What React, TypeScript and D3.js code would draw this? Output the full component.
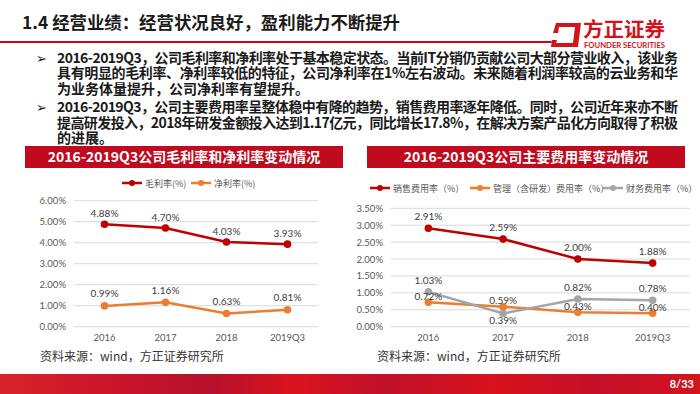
import React from "react";
import * as d3 from "d3";

const years = ["2016", "2017", "2018", "2019Q3"];
const grossMargin = [4.88, 4.7, 4.03, 3.93];
const netMargin = [0.99, 1.16, 0.63, 0.81];
const salesRate = [2.91, 2.59, 2.0, 1.88];
const adminRate = [0.72, 0.59, 0.43, 0.4];
const financeRate = [1.03, 0.39, 0.82, 0.78];
const leftTicks = [0, 1, 2, 3, 4, 5, 6];
const rightTicks = [0, 0.5, 1, 1.5, 2, 2.5, 3, 3.5];
const financeLabelSide = ["above", "below", "above", "above"];

const slideTitle = "1.4  经营业绩：经营状况良好，盈利能力不断提升";
const bodyLines = [
  "2016-2019Q3，公司毛利率和净利率处于基本稳定状态。当前IT分销仍贡献公司大部分营业收入，该业务",
  "具有明显的毛利率、净利率较低的特征，公司净利率在1%左右波动。未来随着利润率较高的云业务和华",
  "为业务体量提升，公司净利率有望提升。",
  "2016-2019Q3，公司主要费用率呈整体稳中有降的趋势，销售费用率逐年降低。同时，公司近年来亦不断",
  "提高研发投入，2018年研发金额投入达到1.17亿元，同比增长17.8%，在解决方案产品化方向取得了积极",
  "的进展。",
];
const source = "资料来源：wind，方正证券研究所";

const RED = "#C00000";
const ORANGE = "#ED7D31";
const GRAY = "#A5A5A5";
const CJK = "'Noto Sans CJK SC', 'Noto Sans', sans-serif";
const NUM = "Lato, 'Liberation Sans', sans-serif";
const fmt = d3.format(".2f");

type Series = {
  name: string;
  values: number[];
  color: string;
  labelDy: (i: number) => number;
};

function LineChart(props: {
  left: number;
  right: number;
  top: number;
  bottom: number;
  max: number;
  ticks: number[];
  series: Series[];
  legendY: number;
  legendX: number[];
  barX: number;
  barW: number;
  title: string;
}) {
  const { left, right, top, bottom, max, ticks, series, legendY, legendX, barX, barW, title } = props;
  const x = d3.scaleBand<string>().domain(years).range([left, right]);
  const cx = (i: number) => (x(years[i]) as number) + x.bandwidth() / 2;
  const y = d3.scaleLinear().domain([0, max]).range([bottom, top]);
  const line = d3
    .line<number>()
    .x((d, i) => cx(i))
    .y((d) => y(d));

  return (
    <g>
      <rect x={barX} y={146} width={barW} height={22} fill="#C00A1E" />
      <text
        x={barX + barW / 2}
        y={162}
        textAnchor="middle"
        fill="#fff"
        fontSize={14}
        fontWeight={700}
        fontFamily={CJK}
      >
        {title}
      </text>

      {series.map((s, k) => (
        <g key={s.name}>
          <line x1={legendX[k]} x2={legendX[k] + 20} y1={legendY} y2={legendY} stroke={s.color} strokeWidth={2.5} />
          <circle cx={legendX[k] + 10} cy={legendY} r={3} fill={s.color} />
          <text x={legendX[k] + 23} y={legendY + 3.5} fontSize={9} fill="#595959" fontFamily={CJK}>
            {s.name}
          </text>
        </g>
      ))}

      {ticks.map((t) => (
        <g key={t}>
          <line x1={left} x2={right} y1={y(t)} y2={y(t)} stroke="#D9D9D9" strokeWidth={1} />
          <text x={left - 8} y={y(t) + 3.5} textAnchor="end" fontSize={9.5} fill="#595959" fontFamily={NUM}>
            {fmt(t)}%
          </text>
        </g>
      ))}

      {years.map((yr, i) => (
        <text key={yr} x={cx(i)} y={bottom + 14} textAnchor="middle" fontSize={9.5} fill="#595959" fontFamily={NUM}>
          {yr}
        </text>
      ))}

      {series.map((s) => (
        <g key={s.name}>
          <path d={line(s.values) as string} fill="none" stroke={s.color} strokeWidth={2.5} />
          {s.values.map((v, i) => (
            <circle key={i} cx={cx(i)} cy={y(v)} r={3.8} fill={s.color} />
          ))}
        </g>
      ))}
      {series.map((s) => (
        <g key={s.name + "-lbl"}>
          {s.values.map((v, i) => (
            <text
              key={i}
              x={cx(i)}
              y={y(v) + s.labelDy(i) + 3.5}
              textAnchor="middle"
              fontSize={10}
              fill="#404040"
              fontFamily={NUM}
            >
              {fmt(v)}%
            </text>
          ))}
        </g>
      ))}
    </g>
  );
}

export default function App() {
  const leftSeries: Series[] = [
    { name: "毛利率(%)", values: grossMargin, color: RED, labelDy: () => -11 },
    { name: "净利率(%)", values: netMargin, color: ORANGE, labelDy: () => -12 },
  ];
  const rightSeries: Series[] = [
    { name: "销售费用率（%）", values: salesRate, color: RED, labelDy: () => -11.5 },
    { name: "管理（含研发）费用率（%）", values: adminRate, color: ORANGE, labelDy: () => -6 },
    {
      name: "财务费用率（%）",
      values: financeRate,
      color: GRAY,
      labelDy: (i) => (financeLabelSide[i] === "below" ? 7 : -11.5),
    },
  ];
  const bodyY = [63, 78, 94, 112, 128, 143];

  return (
    <svg width={700} height={394} style={{ position: "absolute", left: 0, top: 0, background: "#fff" }}>
      <defs>
        <linearGradient id="footer" x1="0" x2="1" y1="0" y2="0">
          <stop offset="0" stopColor="#D8222A" />
          <stop offset="0.18" stopColor="#C8142A" />
          <stop offset="0.3" stopColor="#B5102C" />
          <stop offset="0.42" stopColor="#DA141E" />
          <stop offset="0.55" stopColor="#C0102A" />
          <stop offset="0.7" stopColor="#D8121C" />
          <stop offset="0.85" stopColor="#C40F28" />
          <stop offset="1" stopColor="#D4141E" />
        </linearGradient>
      </defs>
      <rect width={700} height={394} fill="#fff" />

      {/* header */}
      <text x={22} y={29} fontSize={17} fontWeight={700} fill="#1a1a1a" fontFamily={CJK} textLength={378} lengthAdjust="spacingAndGlyphs">
        {slideTitle}
      </text>
      <line x1={0} x2={553} y1={42} y2={42} stroke="#C00A1E" strokeWidth={2} />
      <circle cx={553} cy={42} r={1.8} fill="#bbb" />
      <path
        d="M556,23 L581,23 L578,47 L551,47 L552,40 L557,40 L556,43 L573,43 L575,27 L559,27 L558,33 L553,33 Z"
        fill="#D3121C"
      />
      <text x={583} y={37} fontSize={20} fontWeight={700} fill="#D3121C" fontFamily={CJK} textLength={82} lengthAdjust="spacingAndGlyphs">
        方正证券
      </text>
      <text x={584} y={47.5} fontSize={6.5} fontWeight={700} fill="#D3121C" fontFamily={NUM} textLength={81} lengthAdjust="spacingAndGlyphs">
        FOUNDER SECURITIES
      </text>

      {/* body text */}
      {[bodyY[0], bodyY[3]].map((by) => (
        <text key={by} x={36} y={by} fontSize={13} fontWeight={700} fill="#1a1a1a" fontFamily="'DejaVu Sans', sans-serif">
          ➢
        </text>
      ))}
      {bodyLines.map((t, i) => {
        const full = t.length > 20;
        return (
          <text
            key={i}
            x={57}
            y={bodyY[i]}
            fontSize={14}
            fontWeight={700}
            fill="#1a1a1a"
            fontFamily={CJK}
            textLength={full ? 621 : undefined}
            lengthAdjust="spacing"
          >
            {t}
          </text>
        );
      })}

      <LineChart
        left={74}
        right={318}
        top={200.7}
        bottom={326.7}
        max={6}
        ticks={leftTicks}
        series={leftSeries}
        legendY={183}
        legendX={[122, 191]}
        barX={25}
        barW={318}
        title="2016-2019Q3公司毛利率和净利率变动情况"
      />
      <LineChart
        left={391}
        right={690}
        top={208.3}
        bottom={326.7}
        max={3.5}
        ticks={rightTicks}
        series={rightSeries}
        legendY={188}
        legendX={[370, 470, 603]}
        barX={367}
        barW={318}
        title="2016-2019Q3公司主要费用率变动情况"
      />

      {/* sources */}
      <text x={40} y={361} fontSize={12} fill="#333" fontFamily={CJK}>
        {source}
      </text>
      <text x={377} y={361} fontSize={12} fill="#333" fontFamily={CJK}>
        {source}
      </text>

      {/* footer */}
      <rect x={0} y={374} width={700} height={20} fill="url(#footer)" />
      <text x={694} y={388} textAnchor="end" fontSize={11} fontWeight={700} fill="#fff" fontFamily={NUM}>
        8/33
      </text>
    </svg>
  );
}
